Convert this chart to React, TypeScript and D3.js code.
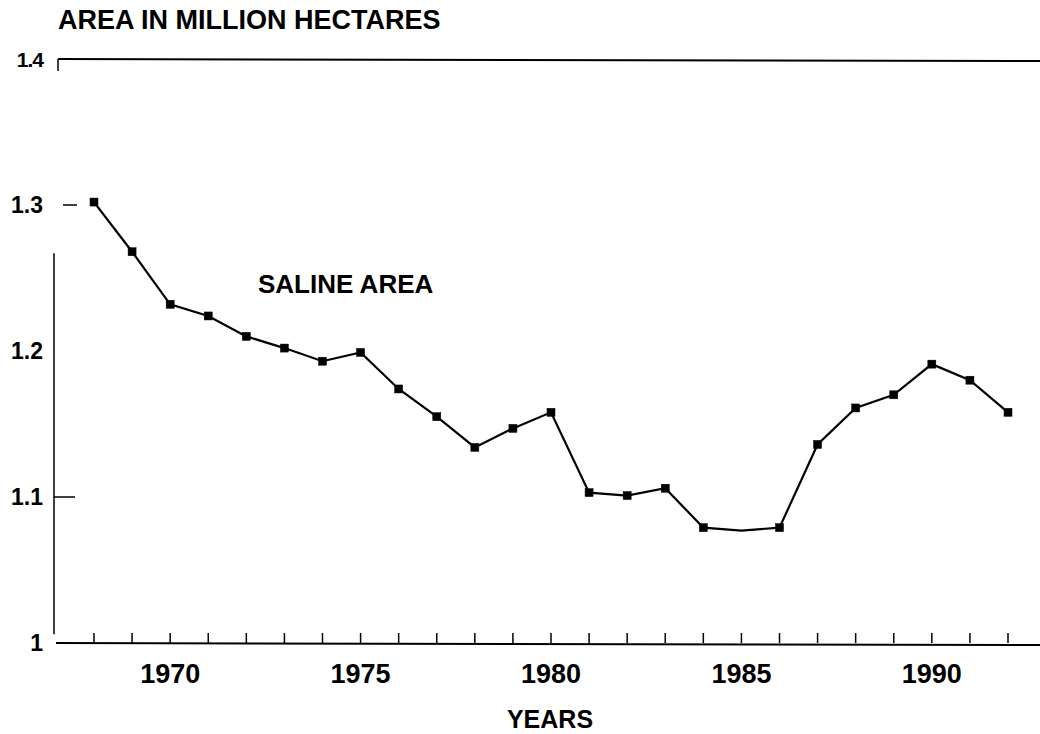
import React from 'react';
import * as d3 from 'd3';

const years = [1968, 1969, 1970, 1971, 1972, 1973, 1974, 1975, 1976, 1977, 1978, 1979, 1980,
  1981, 1982, 1983, 1984, 1985, 1986, 1987, 1988, 1989, 1990, 1991, 1992];
const salineArea = [1.302, 1.268, 1.232, 1.224, 1.210, 1.202, 1.193, 1.199, 1.174, 1.155, 1.134, 1.147, 1.158,
  1.103, 1.101, 1.106, 1.079, 1.077, 1.079, 1.136, 1.161, 1.170, 1.191, 1.180, 1.158];
const unmarkedYears = [1985];
const yearLabels = [1970, 1975, 1980, 1985, 1990];
const yTicks = [1, 1.1, 1.2, 1.3, 1.4];
const yTickLabels = ['1', '1.1', '1.2', '1.3', '1.4'];

const W = 1040;
const H = 734;
const FONT = '"Liberation Sans", Arial, Helvetica, sans-serif';

export default function App() {
  const x = d3.scaleLinear().domain([1968, 1992]).range([94, 1008]);
  const y = d3.scaleLinear().domain([1, 1.4]).range([643, 59]);

  const data = years.map((yr, i) => ({ year: yr, value: salineArea[i] }));
  const line = d3.line<{ year: number; value: number }>()
    .x(d => x(d.year))
    .y(d => y(d.value));

  const axisX = 54;
  const base = y(1);

  return (
    <svg width={W} height={H} style={{ position: 'absolute', left: 0, top: 0, background: '#fff' }}
      fontFamily={FONT} fontWeight="bold">
      {/* title */}
      <text x={58} y={29} fontSize={27}>AREA  IN MILLION  HECTARES</text>

      {/* frame top line at 1.4 */}
      <line x1={58} x2={W} y1={y(1.4)} y2={y(1.4) + 2} stroke="#000" strokeWidth={2} />
      <line x1={58} x2={58} y1={y(1.4)} y2={y(1.4) + 12} stroke="#000" strokeWidth={1.5} />

      {/* y axis */}
      <line x1={axisX} x2={axisX} y1={y(1.267)} y2={y(1.006)} stroke="#000" strokeWidth={1.5} />
      <line x1={63} x2={77} y1={y(1.3)} y2={y(1.3)} stroke="#000" strokeWidth={1.5} />
      <line x1={axisX} x2={75} y1={y(1.1)} y2={y(1.1)} stroke="#000" strokeWidth={1.5} />

      {yTicks.map((t, i) => (
        <text key={t} x={43} y={y(t)} textAnchor="end" dominantBaseline="central"
          fontSize={t === 1.4 ? 21 : 23} letterSpacing={t === 1.4 ? -1 : 0}>
          {yTickLabels[i]}
        </text>
      ))}

      {/* x axis */}
      <line x1={56} x2={W} y1={base} y2={base + 2} stroke="#000" strokeWidth={2} />
      {years.map(yr => (
        <line key={yr} x1={x(yr)} x2={x(yr)} y1={base - 10} y2={base} stroke="#000" strokeWidth={1.5} />
      ))}
      {yearLabels.map(yr => (
        <text key={yr} x={x(yr)} y={683} textAnchor="middle" fontSize={27}>{yr}</text>
      ))}
      <text x={550} y={728} textAnchor="middle" fontSize={25}>YEARS</text>

      {/* series */}
      <path d={line(data) ?? ''} fill="none" stroke="#000" strokeWidth={2.2} />
      {data.filter(d => !unmarkedYears.includes(d.year)).map(d => (
        <rect key={d.year} x={x(d.year) - 4} y={y(d.value) - 4} width={8} height={8}
          fill="#000" stroke="#000" strokeWidth={0.5} />
      ))}
      <text x={258} y={293} fontSize={26}>SALINE AREA</text>
    </svg>
  );
}
